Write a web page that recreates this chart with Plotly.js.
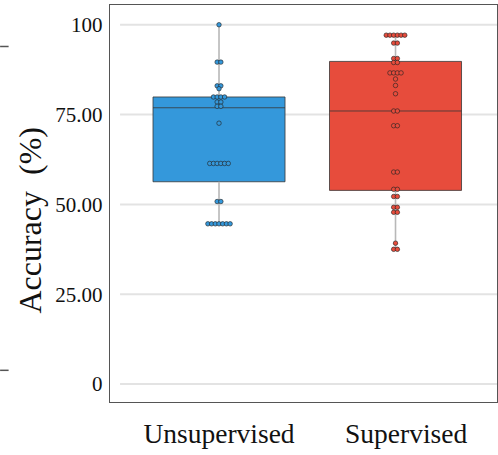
<!DOCTYPE html>
<html>
<head>
<meta charset="utf-8">
<script src="https://cdn.plot.ly/plotly-3.0.1.min.js"></script>
<style>html,body{margin:0;padding:0;background:#fff;}#chart{width:498px;height:455px;}</style>
</head>
<body>
<div id="chart"></div>
<script>
const categories = ['Unsupervised', 'Supervised'];
const unsupervisedAcc = [100, 89.6, 89.6, 83.0, 83.0, 82.2, 79.9, 79.9, 79.9, 79.9,
  78.5, 78.5, 77.3, 77.3, 72.6, 61.4, 61.4, 61.4, 61.4, 61.4, 61.4,
  50.8, 50.8, 44.6, 44.6, 44.6, 44.6, 44.6, 44.6, 44.6];
const supervisedAcc = [97.1, 97.1, 97.1, 97.1, 97.1, 97.1, 94.9, 94.9, 90.6, 90.6,
  89.5, 89.5, 86.6, 86.6, 86.6, 86.6, 84.9, 83.1, 80.8, 76.0, 76.0, 71.9, 71.9,
  59.0, 59.0, 54.2, 54.2, 52.2, 52.2, 49.2, 49.2, 47.8, 47.8, 39.2, 37.5, 37.5];
const q1 = [56.3, 53.9];
const medians = [76.9, 76.0];
const q3 = [79.9, 89.8];
const whiskerLow = [44.6, 37.5];
const whiskerHigh = [100, 97.1];
const tickVals = [0, 25, 50, 75, 100];
const tickText = ['0', '25.00', '50.00', '75.00', '100'];
const boxColors = ['#3498db', '#e74c3c'];

const series = [unsupervisedAcc, supervisedAcc];
const SERIF = '"Liberation Serif", "Times New Roman", serif';
const traces = [];
const dotStep = 0.021;

series.forEach((vals, i) => {
  traces.push({
    type: 'box', name: categories[i], x: [i],
    q1: [q1[i]], median: [medians[i]], q3: [q3[i]],
    lowerfence: [q1[i]], upperfence: [q3[i]],
    fillcolor: boxColors[i], line: {color: 'rgba(55,55,55,0.8)', width: 1},
    width: 0.748, whiskerwidth: 0, boxpoints: false, hoverinfo: 'skip', showlegend: false
  });
  traces.push({
    type: 'scatter', mode: 'lines', x: [i, i, null, i, i],
    y: [whiskerLow[i], q1[i], null, q3[i], whiskerHigh[i]],
    line: {color: '#b8b8b8', width: 1.6}, hoverinfo: 'skip', showlegend: false
  });
});

series.forEach((vals, i) => {
  const counts = {};
  vals.forEach(v => { counts[v] = (counts[v] || 0) + 1; });
  const seen = {};
  const xs = [], ys = [];
  vals.forEach(v => {
    const k = counts[v];
    const j = seen[v] || 0;
    seen[v] = j + 1;
    xs.push(i + (j - (k - 1) / 2) * dotStep);
    ys.push(v);
  });
  traces.push({
    type: 'scatter', mode: 'markers', x: xs, y: ys, name: categories[i],
    marker: {size: 4.5, color: boxColors[i], line: {color: 'rgba(35,35,35,0.9)', width: 0.7}},
    showlegend: false
  });
});

const shapes = tickVals.map(v => ({
  type: 'line', xref: 'paper', yref: 'y', x0: 0.026, x1: 1, y0: v, y1: v,
  line: {color: '#e3e3e3', width: 2}, layer: 'below'
}));
[0.8955, 0.0798].forEach(y => shapes.push({
  type: 'line', xref: 'paper', yref: 'paper', x0: -0.284, x1: -0.262, y0: y, y1: y,
  line: {color: '#555', width: 1.5}
}));

const layout = {
  width: 498, height: 455,
  margin: {l: 110, r: 1, t: 5, b: 53},
  paper_bgcolor: '#fff', plot_bgcolor: '#fff',
  showlegend: false,
  xaxis: {
    range: [-0.6176, 1.575], tickvals: [0, 1.06], ticktext: categories,
    showgrid: false, zeroline: false, showline: true, mirror: true,
    linecolor: '#555', linewidth: 1.2, ticks: '', ticklabelstandoff: 7,
    tickfont: {family: SERIF, size: 27.5, color: '#111'}
  },
  yaxis: {
    range: [-5.0, 105.5], tickvals: tickVals, ticktext: tickText,
    showgrid: false, zeroline: false, showline: true, mirror: true,
    linecolor: '#555', linewidth: 1.2, ticks: '', ticklabelstandoff: 2,
    tickfont: {family: SERIF, size: 21, color: '#111'}
  },
  shapes: shapes,
  annotations: [{
    text: 'Accuracy  (%)', xref: 'paper', yref: 'paper',
    x: -0.2067, y: 0.457, xanchor: 'center', yanchor: 'middle',
    textangle: -90, showarrow: false,
    font: {family: SERIF, size: 32, color: '#111'}
  }]
};

Plotly.newPlot('chart', traces, layout, {staticPlot: true, displayModeBar: false});
</script>
</body>
</html>
